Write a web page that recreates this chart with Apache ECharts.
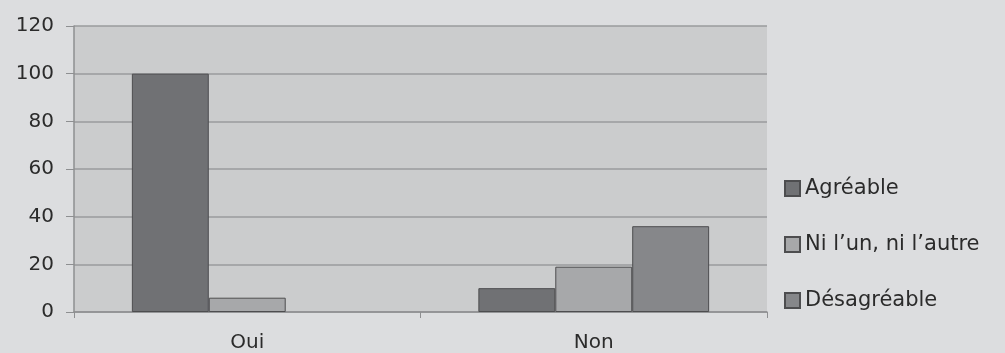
<!DOCTYPE html>
<html><head><meta charset="utf-8">
<script src="https://cdn.jsdelivr.net/npm/echarts@6/dist/echarts.min.js"></script>
<style>html,body{margin:0;padding:0;background:#dcdddf;}#c{width:1005px;height:353px;}</style>
</head><body><div id="c"></div>
<script>
const categories = ['Oui', 'Non'];
const agreable = [100, 10];
const niUnNiAutre = [6, 19];
const desagreable = [null, 36];
const seriesNames = ['Agréable', "Ni l\u2019un, ni l\u2019autre", 'Désagréable'];
const yTicks = { min: 0, max: 120, interval: 20 };

const chart = echarts.init(document.getElementById('c'), null, { renderer: 'canvas' });
const font = 'DejaVu Sans';
const border = { borderColor: '#4d4d4f', borderWidth: 1 };
chart.setOption({
  backgroundColor: '#dcdddf',
  animation: false,
  grid: { left: 74, right: 238, top: 26, bottom: 41, show: true, backgroundColor: '#cbcccd', borderWidth: 0 },
  legend: {
    orient: 'vertical', left: 779, top: 173, itemGap: 35, itemWidth: 15, itemHeight: 15,
    icon: 'rect',
    textStyle: { fontFamily: font, fontSize: 21, lineHeight: 20, color: '#2b2b2b', padding: [0, 0, 0, 0] },
    data: seriesNames
  },
  xAxis: {
    type: 'category', data: categories,
    axisLine: { show: true, lineStyle: { color: '#8e8f91', width: 1.5 } },
    axisTick: { show: true, length: 6, lineStyle: { color: '#8e8f91' } },
    axisLabel: { fontFamily: font, fontSize: 20, color: '#2b2b2b', margin: 21 }
  },
  yAxis: {
    type: 'value', min: yTicks.min, max: yTicks.max, interval: yTicks.interval,
    axisLine: { show: true, lineStyle: { color: '#8e8f91', width: 1.5 } },
    axisTick: { show: true, length: 8, lineStyle: { color: '#8e8f91' } },
    splitLine: { show: true, lineStyle: { color: '#9a9b9d', width: 1.5 } },
    axisLabel: { fontFamily: font, fontSize: 20, color: '#2b2b2b', margin: 20 }
  },
  series: [
    { name: seriesNames[0], type: 'bar', data: agreable, barGap: '0%', barCategoryGap: '33.4%',
      itemStyle: Object.assign({ color: '#707174' }, border) },
    { name: seriesNames[1], type: 'bar', data: niUnNiAutre,
      itemStyle: Object.assign({ color: '#a7a8aa' }, border) },
    { name: seriesNames[2], type: 'bar', data: desagreable,
      itemStyle: Object.assign({ color: '#86878a' }, border) }
  ]
});
</script></body></html>
